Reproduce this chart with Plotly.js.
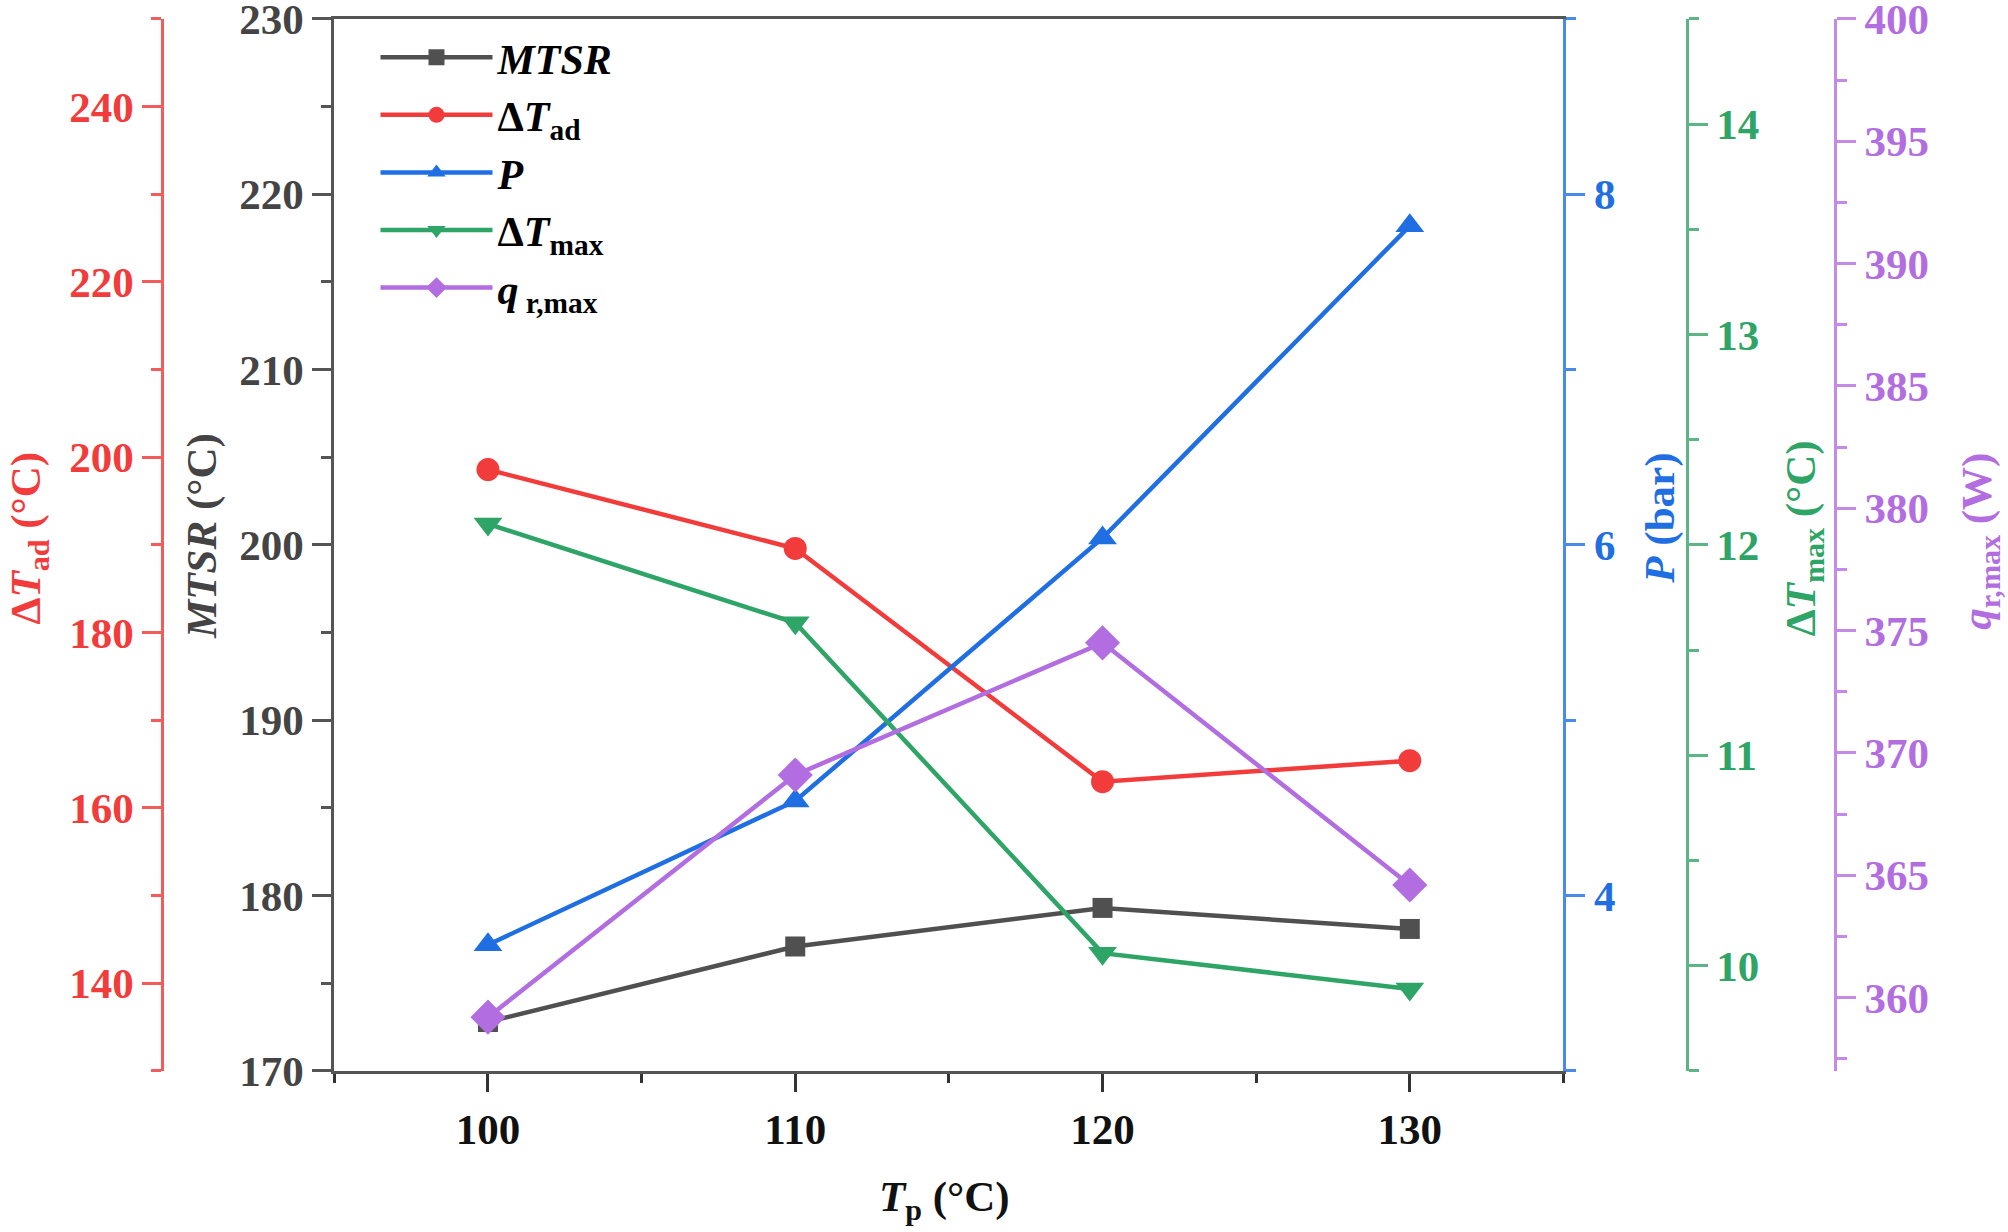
<!DOCTYPE html>
<html>
<head>
<meta charset="utf-8">
<script src="https://cdn.plot.ly/plotly-3.0.1.min.js"></script>
<style>
  html, body { margin: 0; padding: 0; background: #fff; }
  #chart { width: 2008px; height: 1232px; }
</style>
</head>
<body>
<div id="chart"></div>
<script>
// values
var tp = [100, 110, 120, 130];
var mtsr = [172.8, 177.1, 179.3, 178.1];
var dTad = [198.6, 189.6, 163.0, 165.4];
var pressure = [3.72, 4.54, 6.04, 7.82];
var dTmax = [12.10, 11.63, 10.06, 9.89];
var qrmax = [359.2, 369.1, 374.5, 364.6];

var seriesNames = [
  "<b><i>MTSR</i></b>",
  "<b>Δ<i>T</i><sub>ad</sub></b>",
  "<b><i>P</i></b>",
  "<b>Δ<i>T</i><sub>max</sub></b>",
  "<b><i>q</i><sub> r,max</sub></b>"
];

var FONT = "'Liberation Serif', 'Times New Roman', serif";
var gray = "#505050", red = "#f23b3b", blue = "#1f6fe3", green = "#2ea566", purple = "#b26ee0";

function trace(y, name, axis, color, symbol, size) {
  return {
    x: tp, y: y, name: name, yaxis: axis,
    type: "scatter", mode: "lines+markers",
    line: { color: color, width: 4.5 },
    marker: { color: color, symbol: symbol, size: size }
  };
}

var data = [
  trace(mtsr, seriesNames[0], "y", gray, "square", 20),
  trace(dTad, seriesNames[1], "y2", red, "circle", 23),
  trace(pressure, seriesNames[2], "y3", blue, "triangle-up", 25),
  trace(dTmax, seriesNames[3], "y4", green, "triangle-down", 25),
  trace(qrmax, seriesNames[4], "y5", purple, "diamond", 27)
];

function yAxis(range, dtick, minorDtick, lineColor, labelColor, extra) {
  var ax = {
    range: range, dtick: dtick, tick0: 0,
    showgrid: false, zeroline: false, showline: true,
    linecolor: lineColor, linewidth: 3,
    ticks: "outside", ticklen: 19, tickwidth: 3, tickcolor: lineColor,
    minor: { dtick: minorDtick, ticks: "outside", ticklen: 10, tickwidth: 3, tickcolor: lineColor, showgrid: false },
    tickfont: { family: FONT, size: 43, color: labelColor, weight: "bold" },
    ticklabeloverflow: "allow",
    automargin: false, fixedrange: true
  };
  for (var k in extra) ax[k] = extra[k];
  return ax;
}

var layout = {
  width: 2008,
  height: 1232,
  margin: { l: 0, r: 0, t: 0, b: 0 },
  paper_bgcolor: "#fff",
  plot_bgcolor: "#fff",
  font: { family: FONT, color: "#000" },
  showlegend: true,
  legend: {
    x: 0.187, y: 0.981, xanchor: "left", yanchor: "top",
    bgcolor: "rgba(0,0,0,0)",
    font: { family: FONT, size: 42, color: "#000", weight: "bold" },
    itemwidth: 112, tracegroupgap: 0
  },
  xaxis: {
    domain: [0.1665, 0.7786],
    range: [95, 135], dtick: 10, tick0: 0,
    showgrid: false, zeroline: false, showline: true, mirror: true,
    linecolor: "#555", linewidth: 3,
    ticks: "outside", ticklen: 18, tickwidth: 3, tickcolor: "#333",
    minor: { dtick: 5, ticks: "outside", ticklen: 9, tickwidth: 3, tickcolor: "#333", showgrid: false },
    tickfont: { family: FONT, size: 43, color: "#111", weight: "bold" },
    ticklabeloverflow: "allow",
    automargin: false, fixedrange: true
  },
  yaxis: yAxis([170, 230], 10, 5, "#555", "#444", { domain: [0.1307, 0.9846], side: "left" }),
  yaxis2: yAxis([130, 250], 20, 10, "#f25c5c", red, { overlaying: "y", side: "left", anchor: "free", position: 0.0808 }),
  yaxis3: yAxis([3, 9], 2, 1, "#4a8ae8", blue, { overlaying: "y", side: "right", anchor: "x" }),
  yaxis4: yAxis([9.5, 14.5], 1, 0.5, "#5db585", green, { overlaying: "y", side: "right", anchor: "free", position: 0.840 }),
  yaxis5: yAxis([357, 400], 5, 2.5, "#c48ae8", purple, { overlaying: "y", side: "right", anchor: "free", position: 0.9138 }),
  annotations: [
    { text: "<b>Δ<i>T</i><sub>ad</sub> (°C)</b>", x: 0.0145, y: 0.563, color: red },
    { text: "<b><i>MTSR</i> (°C)</b>", x: 0.1006, y: 0.565, color: "#444" },
    { text: "<b><i>P</i> (bar)</b>", x: 0.8267, y: 0.579, color: blue },
    { text: "<b>Δ<i>T</i><sub>max</sub> (°C)</b>", x: 0.8984, y: 0.563, color: green },
    { text: "<b><i>q</i><sub>r,max</sub> (W)</b>", x: 0.986, y: 0.561, color: purple }
  ].map(function (a) {
    return {
      text: a.text, x: a.x, y: a.y, xref: "paper", yref: "paper",
      xanchor: "center", yanchor: "middle", textangle: -90, showarrow: false,
      font: { family: FONT, size: 43, color: a.color, weight: "bold" }
    };
  }).concat([{
    text: "<b><i>T</i><sub>p</sub> (°C)</b>", x: 0.4706, y: 0.026,
    xref: "paper", yref: "paper", xanchor: "center", yanchor: "middle", showarrow: false,
    font: { family: FONT, size: 43, color: "#111", weight: "bold" }
  }])
};

Plotly.newPlot("chart", data, layout, { staticPlot: true, displayModeBar: false });
</script>
</body>
</html>
